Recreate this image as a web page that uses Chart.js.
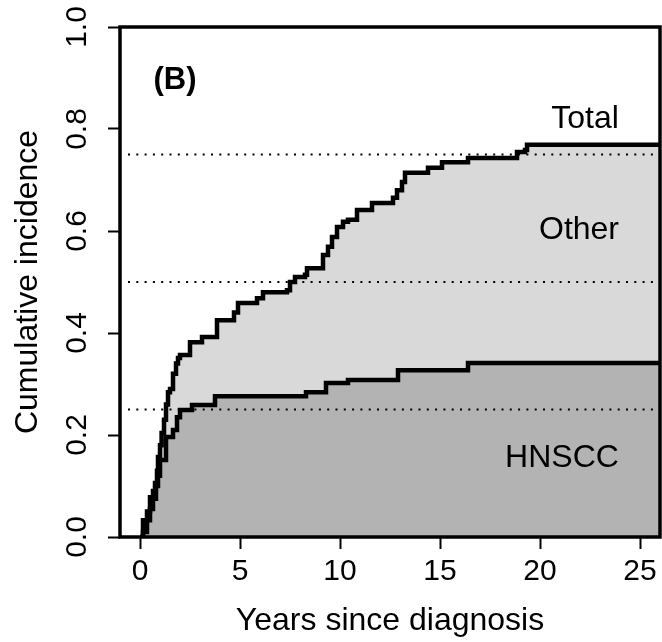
<!DOCTYPE html>
<html>
<head>
<meta charset="utf-8">
<script src="https://cdn.jsdelivr.net/npm/chart.js@4.4.1/dist/chart.umd.min.js"></script>
<style>
  body { margin: 0; background: #fff; }
  canvas { display: block; }
</style>
</head>
<body>
<canvas id="cif" width="662" height="642"></canvas>
<script>
// cumulative incidence
const totalYears = [0, 0.15, 0.35, 0.5, 0.65, 0.75, 0.85, 0.9, 1.0, 1.08, 1.2, 1.3, 1.4, 1.5, 1.65, 1.8, 1.9, 2.0,
  2.5, 3.1, 3.85, 4.7, 4.9, 5.85, 6.15, 7.35, 7.5, 7.75, 8.25, 8.35, 9.15, 9.4, 9.6, 9.85, 10.15, 10.4, 10.85,
  11.6, 12.65, 12.85, 13.1, 13.25, 14.4, 15.1, 16.4, 18.85, 19.25, 19.35, 26];
const totalInc = [0, 0.033, 0.05, 0.078, 0.09, 0.106, 0.13, 0.157, 0.18, 0.204, 0.23, 0.26, 0.284, 0.29, 0.32, 0.34, 0.351, 0.357,
  0.382, 0.392, 0.425, 0.44, 0.459, 0.468, 0.48, 0.484, 0.5, 0.51, 0.514, 0.527, 0.553, 0.569, 0.588, 0.608, 0.618, 0.622, 0.641,
  0.655, 0.665, 0.68, 0.696, 0.714, 0.724, 0.735, 0.743, 0.755, 0.759, 0.769, 0.769];

const hnsccYears = [0, 0.15, 0.35, 0.5, 0.65, 0.8, 0.9, 1.0, 1.3, 1.65, 1.85, 2.0, 2.6, 3.75, 8.3, 9.3, 10.4, 12.9, 16.4, 26];
const hnsccInc = [0, 0.01, 0.033, 0.055, 0.075, 0.1, 0.12, 0.151, 0.196, 0.21, 0.235, 0.249, 0.259, 0.276, 0.284, 0.302, 0.308, 0.327, 0.341, 0.341];

const refLevels = [0.25, 0.5, 0.75];
const xTicks = [0, 5, 10, 15, 20, 25];
const yTicks = [0, 0.2, 0.4, 0.6, 0.8, 1.0];

const FONT = "'Liberation Sans', Arial, sans-serif";

const toPoints = (xs, ys) => xs.map((x, i) => ({ x: x, y: ys[i] }));

const datasets = [
  {
    label: 'HNSCC',
    data: toPoints(hnsccYears, hnsccInc),
    stepped: 'before',
    borderColor: '#000',
    borderWidth: 4.5,
    backgroundColor: '#b3b3b3',
    fill: 'origin',
    pointRadius: 0
  },
  {
    label: 'Total',
    data: toPoints(totalYears, totalInc),
    stepped: 'before',
    borderColor: '#000',
    borderWidth: 4.5,
    backgroundColor: '#d9d9d9',
    fill: 'origin',
    pointRadius: 0
  }
];

refLevels.forEach(level => {
  datasets.push({
    label: 'ref ' + level,
    data: [{ x: -0.6, y: level }, { x: 26, y: level }],
    borderColor: '#000',
    borderWidth: 2,
    borderDash: [2, 6.3],
    fill: false,
    pointRadius: 0
  });
});

// in-plot text and the frame round the plot
const annotations = {
  id: 'annotations',
  afterDatasetsDraw(chart) {
    const { ctx, chartArea, scales: { x, y } } = chart;
    ctx.save();
    ctx.fillStyle = '#000';
    ctx.textAlign = 'center';
    ctx.textBaseline = 'alphabetic';
    ctx.font = '32px ' + FONT;
    ctx.fillText('Total', x.getPixelForValue(22.25), y.getPixelForValue(0.825) + 11.5);
    ctx.fillText('Other', x.getPixelForValue(21.95), y.getPixelForValue(0.606) + 11.5);
    ctx.fillText('HNSCC', x.getPixelForValue(21.1), y.getPixelForValue(0.159) + 11.5);
    ctx.font = 'bold 31px ' + FONT;
    ctx.fillText('(B)', x.getPixelForValue(1.75), y.getPixelForValue(0.9) + 11);

    ctx.strokeStyle = '#000';
    ctx.lineWidth = 3.5;
    ctx.strokeRect(chartArea.left, chartArea.top, chartArea.right - chartArea.left, chartArea.bottom - chartArea.top);
    ctx.restore();
  }
};

new Chart(document.getElementById('cif'), {
  type: 'line',
  data: { datasets: datasets },
  options: {
    responsive: false,
    animation: false,
    devicePixelRatio: 1,
    layout: { padding: { top: 27, right: 2, left: 0, bottom: 0 } },
    plugins: {
      legend: { display: false },
      tooltip: { enabled: false },
      filler: { drawTime: 'beforeDatasetsDraw' }
    },
    scales: {
      x: {
        type: 'linear',
        min: -1,
        max: 26,
        afterBuildTicks: scale => { scale.ticks = xTicks.map(v => ({ value: v })); },
        afterFit: scale => { scale.height = 105; },
        border: { display: false },
        grid: { drawOnChartArea: false, color: '#000', tickLength: 12, tickWidth: 2 },
        ticks: {
          color: '#000',
          font: { family: FONT, size: 30 },
          padding: 5,
          maxRotation: 0,
          callback: v => String(v)
        },
        title: {
          display: true,
          text: 'Years since diagnosis',
          color: '#000',
          font: { family: FONT, size: 32 },
          padding: { top: 0, bottom: 2 }
        }
      },
      y: {
        type: 'linear',
        min: 0,
        max: 1,
        afterBuildTicks: scale => { scale.ticks = yTicks.map(v => ({ value: v })); },
        afterFit: scale => { scale.width = 120; },
        border: { display: false },
        grid: { drawOnChartArea: false, color: '#000', tickLength: 12, tickWidth: 2 },
        ticks: {
          color: '#000',
          font: { family: FONT, size: 30 },
          padding: 9,
          minRotation: 90,
          maxRotation: 90,
          crossAlign: 'center',
          callback: v => v.toFixed(1)
        },
        title: {
          display: true,
          text: 'Cumulative incidence',
          color: '#000',
          font: { family: FONT, size: 32 },
          padding: { top: 9, bottom: 0 }
        }
      }
    }
  },
  plugins: [annotations]
});
</script>
</body>
</html>
